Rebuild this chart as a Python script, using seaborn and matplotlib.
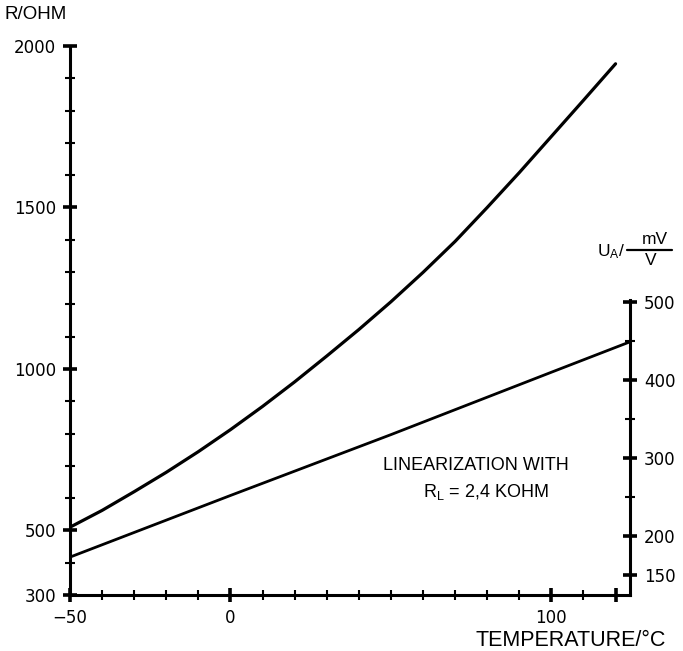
import numpy as np
import pandas as pd
import seaborn as sns
import matplotlib.pyplot as plt
from matplotlib.lines import Line2D
from matplotlib.ticker import FixedLocator

# sensor resistance vs temperature
temp_r = [-50, -40, -30, -20, -10, 0, 10, 20, 30, 40, 50, 60, 70, 80, 90, 100, 110, 120]
resistance = [510, 562, 620, 680, 744, 812, 884, 960, 1040, 1122, 1208, 1299, 1395,
              1500, 1608, 1720, 1832, 1945]

# linearized output voltage (right axis)
temp_u = [-50, 0, 50, 100, 124.5]
u_out = [173, 252, 330, 410, 449]

r_ticks = [300, 500, 1000, 1500, 2000]
u_ticks = [150, 200, 300, 400, 500]
t_ticks = [-50, 0, 100, 120]
t_labels = ["\u221250", "0", "100", ""]

sns.set_style("white")
plt.rcParams['font.family'] = ['Liberation Sans', 'DejaVu Sans']
plt.rcParams['mathtext.fontset'] = 'custom'
plt.rcParams['mathtext.rm'] = 'Liberation Sans'
plt.rcParams['mathtext.it'] = 'Liberation Sans'
plt.rcParams['text.color'] = 'black'
plt.rcParams['xtick.color'] = 'black'
plt.rcParams['ytick.color'] = 'black'

W, H = 683, 651
fig = plt.figure(figsize=(W / 100, H / 100), dpi=100)
ax = fig.add_axes([0.1025, 0.086, 0.8199, 0.8433])
ax2 = ax.twinx()

df_r = pd.DataFrame({"T": temp_r, "R": resistance})
df_u = pd.DataFrame({"T": temp_u, "U": u_out})
sns.lineplot(data=df_r, x="T", y="R", ax=ax, color="black", lw=2.3)
sns.lineplot(data=df_u, x="T", y="U", ax=ax2, color="black", lw=2.0)

ax.set_xlim(-50, 124.5)
ax.set_ylim(300, 2000)
ax2.set_ylim(124.4, 828.2)

for a in (ax, ax2):
    for s in a.spines.values():
        s.set_visible(False)
    a.set_xlabel("")
    a.set_ylabel("")

ax.spines["left"].set_visible(True)
ax.spines["bottom"].set_visible(True)
ax2.spines["right"].set_visible(True)
ax2.spines["right"].set_bounds(124.4, 503)
for s in (ax.spines["left"], ax.spines["bottom"], ax2.spines["right"]):
    s.set_linewidth(2.2)
    s.set_color("black")

# ticks
ax.set_yticks(r_ticks)
ax.yaxis.set_minor_locator(FixedLocator(range(400, 2000, 100)))
ax.set_xticks(t_ticks)
ax.set_xticklabels(t_labels)
ax.xaxis.set_minor_locator(FixedLocator(range(-40, 111, 10)))
ax2.set_yticks(u_ticks)
ax2.yaxis.set_minor_locator(FixedLocator([250, 350, 450]))

ax.tick_params(axis="both", which="major", direction="inout", length=10, width=2.6,
               colors="black", left=True, bottom=True, pad=5)
ax.tick_params(axis="both", which="minor", direction="inout", length=6.5, width=1.5,
               color="black", left=True, bottom=True)
ax2.tick_params(axis="y", which="major", direction="inout", length=10, width=2.6,
                colors="black", right=True, pad=5)
ax2.tick_params(axis="y", which="minor", direction="inout", length=6.5, width=1.5,
                color="black", right=True)
for lab in ax.get_xticklabels() + ax.get_yticklabels() + ax2.get_yticklabels():
    lab.set_fontfamily("DejaVu Sans")
    lab.set_fontsize(12)

# texts
fig.text(0.007, 0.977, "R/OHM", fontsize=13.5, ha="left", va="center")
fig.text(475 / W, 1 - 640 / H, "TEMPERATURE/\u00b0C", fontsize=15.5, ha="left", va="center")

# right axis unit label  U_A / (mV / V)
fig.text(597 / W, 1 - 252 / H, r"U$_\mathrm{A}$/", fontsize=12.5, ha="left", va="center")
fig.text(655 / W, 1 - 240 / H, "mV", fontsize=12.5, ha="center", va="center")
fig.text(651 / W, 1 - 261 / H, "V", fontsize=12.5, ha="center", va="center")
fig.add_artist(Line2D([627 / W, 672 / W], [1 - 250 / H] * 2, lw=1.6, color="black"))

ax.text(47.5, 702, "LINEARIZATION WITH", fontsize=13, ha="left", va="center")
ax.text(79.5, 618, r"R$_\mathrm{L}$ = 2,4 KOHM", fontsize=13, ha="center", va="center")

fig.savefig("out.png", dpi=100)
